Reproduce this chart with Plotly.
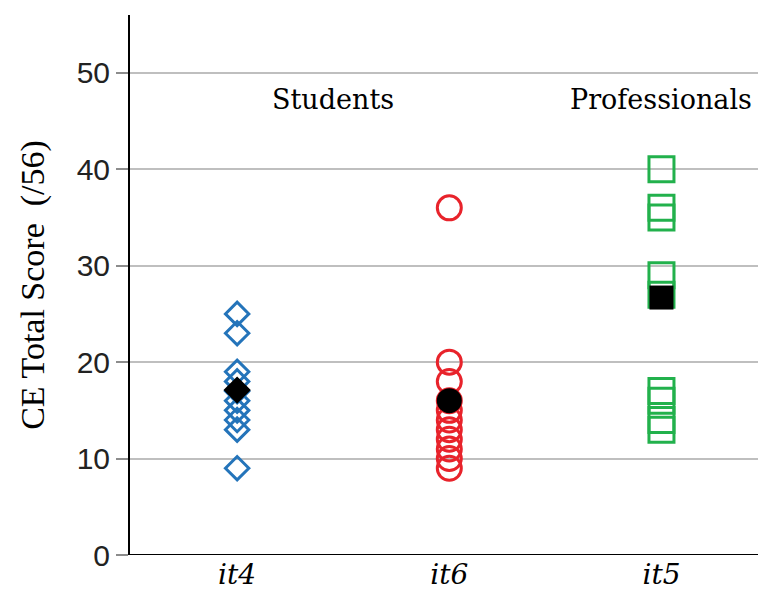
import plotly.graph_objects as go

# Iteration groups on the x axis
categories = ["it4", "it6", "it5"]

# CE total scores per participant (out of 56)
it4_scores = [25, 23, 19, 18, 17, 16, 15, 14, 13, 9]
it6_scores = [36, 20, 18, 16, 15, 14, 13, 12, 11, 10, 9]
it5_scores = [40, 36, 35, 29, 27, 17, 16, 14, 13]

# Group means (filled black markers)
group_means = [17.1, 16.0, 26.7]

y_ticks = [0, 10, 20, 30, 40, 50]

BLUE = "#2474BA"
RED = "#E8232B"
GREEN = "#22B14C"

fig = go.Figure()

series = [
    (categories[0], it4_scores, "diamond-open", BLUE, 18, "diamond", 21),
    (categories[1], it6_scores, "circle-open", RED, 24, "circle", 25),
    (categories[2], it5_scores, "square-open", GREEN, 25, "square", 24),
]

for i, (cat, vals, sym, col, size, msym, msize) in enumerate(series):
    fig.add_trace(go.Scatter(
        x=[cat] * len(vals), y=vals, mode="markers",
        marker=dict(symbol=sym, size=size, color=col, line=dict(width=3, color=col)),
        showlegend=False, hoverinfo="y",
    ))
    fig.add_trace(go.Scatter(
        x=[cat], y=[group_means[i]], mode="markers",
        marker=dict(symbol=msym, size=msize, color="black", line=dict(width=0)),
        showlegend=False, hoverinfo="y",
    ))

fig.add_annotation(x=0.45, y=47.2, xref="x", yref="y", text="Students",
                   showarrow=False, font=dict(family="DejaVu Serif", size=27, color="black"))
fig.add_annotation(x=2.0, y=47.2, xref="x", yref="y", text="Professionals",
                   showarrow=False, font=dict(family="DejaVu Serif", size=27, color="black"))

fig.update_layout(
    width=758, height=592,
    margin=dict(l=130, r=0, t=15, b=37),
    paper_bgcolor="white", plot_bgcolor="white",
)

fig.update_xaxes(
    type="category", range=[-0.505, 2.455],
    showgrid=False, zeroline=False,
    showline=False, ticks="",
    tickfont=dict(family="DejaVu Serif", size=28, color="black"),
    tickvals=categories, ticktext=[f"<i>{c}</i>" for c in categories],
)

fig.update_yaxes(
    range=[0, 56], tickvals=y_ticks,
    showgrid=True, gridcolor="#BFBFBF", gridwidth=2,
    zeroline=False,
    showline=True, linecolor="black", linewidth=2,
    ticks="outside", ticklen=12, tickwidth=2, tickcolor="#8C8C8C",
    tickfont=dict(family="Liberation Sans", size=30, color="#222222"),
    title=dict(text="CE Total Score  (/56)",
               font=dict(family="Liberation Serif", size=34, color="black"),
               standoff=22),
)

# baseline along the bottom of the plot area
fig.add_shape(type="line", xref="paper", yref="y", x0=0, x1=1, y0=0, y1=0,
              line=dict(color="black", width=2))

fig.write_html("out.html")
